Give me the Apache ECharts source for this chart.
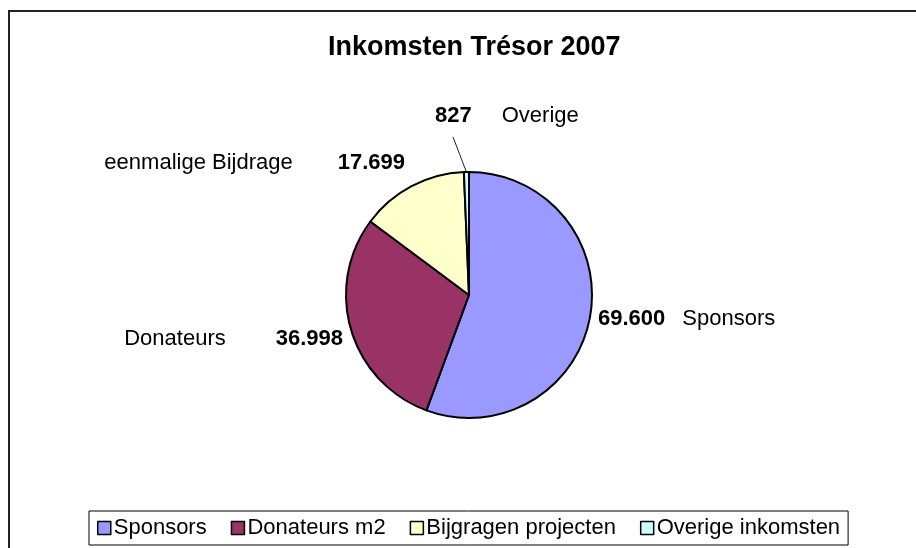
<!DOCTYPE html>
<html>
<head>
<meta charset="utf-8">
<title>Inkomsten Trésor 2007</title>
<script src="https://cdn.jsdelivr.net/npm/echarts@6/dist/echarts.min.js"></script>
<style>
    html, body { margin: 0; padding: 0; background: #fff; }
    #main { width: 916px; height: 548px; }
</style>
</head>
<body>
<div id="main"></div>
<script type="text/javascript">
    // gegevens
    var titel = 'Inkomsten Trésor 2007';
    var legendNames = ['Sponsors', 'Donateurs m2', 'Bijgragen projecten', 'Overige inkomsten'];
    var labelNames = ['Sponsors', 'Donateurs', 'eenmalige Bijdrage', 'Overige'];
    var values = [69600, 36998, 17699, 827];
    var colors = ['#9999FF', '#993366', '#FFFFCC', '#CCFFFF'];

    // plaats van de labels (x, y, uitlijning) en ruimte tussen waarde en naam
    var labelPos = [[598, 319, 'left'], [343, 339, 'right'], [405, 163, 'right'], [435, 116, 'left']];
    var labelGap = [17, 50, 45, 30];

    var FONT = '"Liberation Sans", Arial, sans-serif';

    // 69600 -> 69.600
    function nlNumber(v) {
        return String(v).replace(/\B(?=(\d{3})+(?!\d))/g, '.');
    }

    var chart = echarts.init(document.getElementById('main'), null, { renderer: 'canvas' });

    var pieData = [];
    for (var i = 0; i < values.length; i++) {
        var item = {
            name: legendNames[i],
            value: values[i],
            itemStyle: { color: colors[i] }
        };
        if (i === 3) {
            item.labelLine = { show: true, length: 0, length2: 0, lineStyle: { color: '#222', width: 1 } };
        }
        pieData.push(item);
    }

    var rich = {
        v: { fontFamily: FONT, fontSize: 22, fontWeight: 'bold', color: '#000' },
        n: { fontFamily: FONT, fontSize: 22, color: '#000' }
    };
    labelGap.forEach(function (g, i) {
        rich['g' + i] = { width: g, fontSize: 22, fontFamily: FONT };
    });

    var option = {
        animation: false,
        backgroundColor: '#fff',
        title: {
            text: titel,
            left: 323,
            top: 29,
            textStyle: { fontFamily: FONT, fontSize: 27, fontWeight: 'bold', color: '#000' }
        },
        legend: {
            data: legendNames,
            left: 89,
            top: 511,
            orient: 'horizontal',
            itemWidth: 13,
            itemHeight: 13,
            itemGap: 24,
            padding: [6, 8],
            borderColor: '#000',
            borderWidth: 1,
            icon: 'rect',
            itemStyle: { borderColor: '#000', borderWidth: 1.5 },
            textStyle: { fontFamily: FONT, fontSize: 22, color: '#000', padding: [0, 0, 0, -2] }
        },
        graphic: [{
            type: 'rect',
            shape: { x: 9, y: 11, width: 1000, height: 600 },
            style: { fill: null, stroke: '#222', lineWidth: 2 },
            silent: true,
            z: 0
        }],
        series: [{
            type: 'pie',
            center: [469, 295],
            radius: 123,
            startAngle: 90,
            clockwise: true,
            avoidLabelOverlap: false,
            itemStyle: { borderColor: '#000', borderWidth: 2 },
            emphasis: { disabled: true },
            label: {
                show: true,
                position: 'outside',
                overflow: 'none',
                formatter: function (p) {
                    var i = p.dataIndex;
                    var v = '{v|' + nlNumber(values[i]) + '}';
                    var n = '{n|' + labelNames[i] + '}';
                    var g = '{g' + i + '| }';
                    return labelPos[i][2] === 'left' ? v + g + n : n + g + v;
                },
                rich: rich
            },
            labelLine: { show: false },
            labelLayout: function (p) {
                var lp = labelPos[p.dataIndex];
                var out = { x: lp[0], y: lp[1], align: lp[2], verticalAlign: 'middle' };
                // verbindingslijn van de rand van het kleine segment naar onder "827"
                if (p.labelLinePoints && p.labelLinePoints.length) {
                    var a = p.labelLinePoints[0];
                    var b = [lp[0] + 18, lp[1] + 21];
                    out.labelLinePoints = [a, [(a[0] + b[0]) / 2, (a[1] + b[1]) / 2], b];
                }
                return out;
            },
            data: pieData
        }]
    };

    chart.setOption(option);
</script>
</body>
</html>
